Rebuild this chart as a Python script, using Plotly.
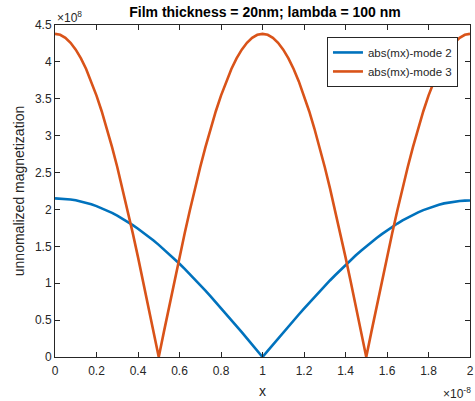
import plotly.graph_objects as go

# x in units of 1e-8, y in units of 1e8
x_vals = [0.000, 0.025, 0.050, 0.075, 0.100, 0.125, 0.150, 0.175, 0.200, 0.225,
          0.250, 0.275, 0.300, 0.325, 0.350, 0.375, 0.400, 0.425, 0.450, 0.475,
          0.500, 0.525, 0.550, 0.575, 0.600, 0.625, 0.650, 0.675, 0.700, 0.725,
          0.750, 0.775, 0.800, 0.825, 0.850, 0.875, 0.900, 0.925, 0.950, 0.975,
          1.000, 1.025, 1.050, 1.075, 1.100, 1.125, 1.150, 1.175, 1.200, 1.225,
          1.250, 1.275, 1.300, 1.325, 1.350, 1.375, 1.400, 1.425, 1.450, 1.475,
          1.500, 1.525, 1.550, 1.575, 1.600, 1.625, 1.650, 1.675, 1.700, 1.725,
          1.750, 1.775, 1.800, 1.825, 1.850, 1.875, 1.900, 1.925, 1.950, 1.975,
          2.000]

mode2 = [2.150, 2.148, 2.143, 2.135, 2.124, 2.109, 2.091, 2.069, 2.045, 2.017,
         1.986, 1.953, 1.916, 1.876, 1.833, 1.788, 1.739, 1.688, 1.635, 1.579,
         1.520, 1.459, 1.396, 1.331, 1.264, 1.194, 1.123, 1.051, 0.976, 0.900,
         0.823, 0.744, 0.664, 0.584, 0.502, 0.419, 0.336, 0.253, 0.169, 0.084,
         0.000, 0.083, 0.167, 0.250, 0.332, 0.414, 0.495, 0.576, 0.655, 0.734,
         0.812, 0.888, 0.963, 1.037, 1.108, 1.178, 1.248, 1.314, 1.378, 1.440,
         1.500, 1.558, 1.614, 1.666, 1.716, 1.765, 1.809, 1.852, 1.891, 1.928,
         1.960, 1.991, 2.018, 2.042, 2.064, 2.082, 2.096, 2.107, 2.115, 2.120,
         2.122]

mode3 = [4.380, 4.367, 4.326, 4.259, 4.166, 4.047, 3.903, 3.735, 3.543, 3.331,
         3.097, 2.845, 2.575, 2.289, 1.988, 1.676, 1.354, 1.023, 0.685, 0.344,
         0.000, 0.344, 0.685, 1.023, 1.354, 1.676, 1.988, 2.289, 2.575, 2.845,
         3.097, 3.331, 3.543, 3.735, 3.903, 4.047, 4.166, 4.259, 4.326, 4.367,
         4.380, 4.367, 4.326, 4.259, 4.166, 4.047, 3.903, 3.735, 3.543, 3.331,
         3.097, 2.845, 2.575, 2.289, 1.988, 1.676, 1.354, 1.023, 0.685, 0.344,
         0.000, 0.344, 0.685, 1.023, 1.354, 1.676, 1.988, 2.289, 2.575, 2.845,
         3.097, 3.331, 3.543, 3.735, 3.903, 4.047, 4.166, 4.259, 4.326, 4.367,
         4.380]

x_ticks = [0, 0.2, 0.4, 0.6, 0.8, 1, 1.2, 1.4, 1.6, 1.8, 2]
x_tick_labels = ["0", "0.2", "0.4", "0.6", "0.8", "1", "1.2", "1.4", "1.6", "1.8", "2"]
y_ticks = [0, 0.5, 1, 1.5, 2, 2.5, 3, 3.5, 4, 4.5]
y_tick_labels = ["0", "0.5", "1", "1.5", "2", "2.5", "3", "3.5", "4", "4.5"]

title_text = "Film thickness = 20nm; lambda = 100 nm"
names = ["abs(mx)-mode 2", "abs(mx)-mode 3"]
colors = ["#0072BD", "#D95319"]

FONT = "Liberation Sans, Arial, sans-serif"
TXT = "#262626"

W, H = 475, 401

fig = go.Figure()
for ys, nm, c in zip([mode2, mode3], names, colors):
    fig.add_trace(go.Scatter(x=x_vals, y=ys, mode="lines", name=nm,
                             line=dict(color=c, width=2.6)))

axis_common = dict(showgrid=False, zeroline=False, showline=True, linecolor=TXT,
                   linewidth=1, mirror="ticks", ticks="inside", ticklen=5,
                   tickcolor=TXT, ticklabeloverflow="allow",
                   tickfont=dict(family=FONT, size=12, color=TXT))

fig.update_layout(
    width=W, height=H,
    margin=dict(l=55, r=1, t=25, b=44),
    paper_bgcolor="white", plot_bgcolor="white",
    showlegend=True,
    title=dict(text="<b>" + title_text + "</b>", x=265 / W, xanchor="center",
               y=1 - 12 / H, yanchor="middle",
               font=dict(family=FONT, size=14, color="#000000")),
    xaxis=dict(range=[0, 2], tickvals=x_ticks, ticktext=x_tick_labels,
               ticklabelstandoff=3,
               title=dict(text="x", font=dict(family=FONT, size=14, color=TXT), standoff=8),
               **axis_common),
    yaxis=dict(range=[0, 4.5], tickvals=y_ticks, ticktext=y_tick_labels,
               title=dict(text="unnomalized magnetization",
                          font=dict(family=FONT, size=14, color=TXT), standoff=7),
               **axis_common),
    legend=dict(x=0.971, y=0.964, xanchor="right", yanchor="top",
                bgcolor="white", bordercolor=TXT, borderwidth=1,
                font=dict(family=FONT, size=11.5, color=TXT),
                tracegroupgap=0, itemwidth=30),
)

fig.add_annotation(text="×10<sup>8</sup>", xref="paper", yref="paper",
                   x=0, y=1, xanchor="left", yanchor="bottom", showarrow=False,
                   font=dict(family=FONT, size=12, color=TXT), yshift=-2)
fig.add_annotation(text="×10<sup>-8</sup>", xref="paper", yref="paper",
                   x=1, y=0, xanchor="right", yanchor="top", showarrow=False,
                   font=dict(family=FONT, size=12, color=TXT), yshift=-26, xshift=3)

fig.write_html("out.html",
               config={"displayModeBar": False},
               post_script="document.body.style.margin='0';"
                           "document.body.style.overflow='hidden';")
